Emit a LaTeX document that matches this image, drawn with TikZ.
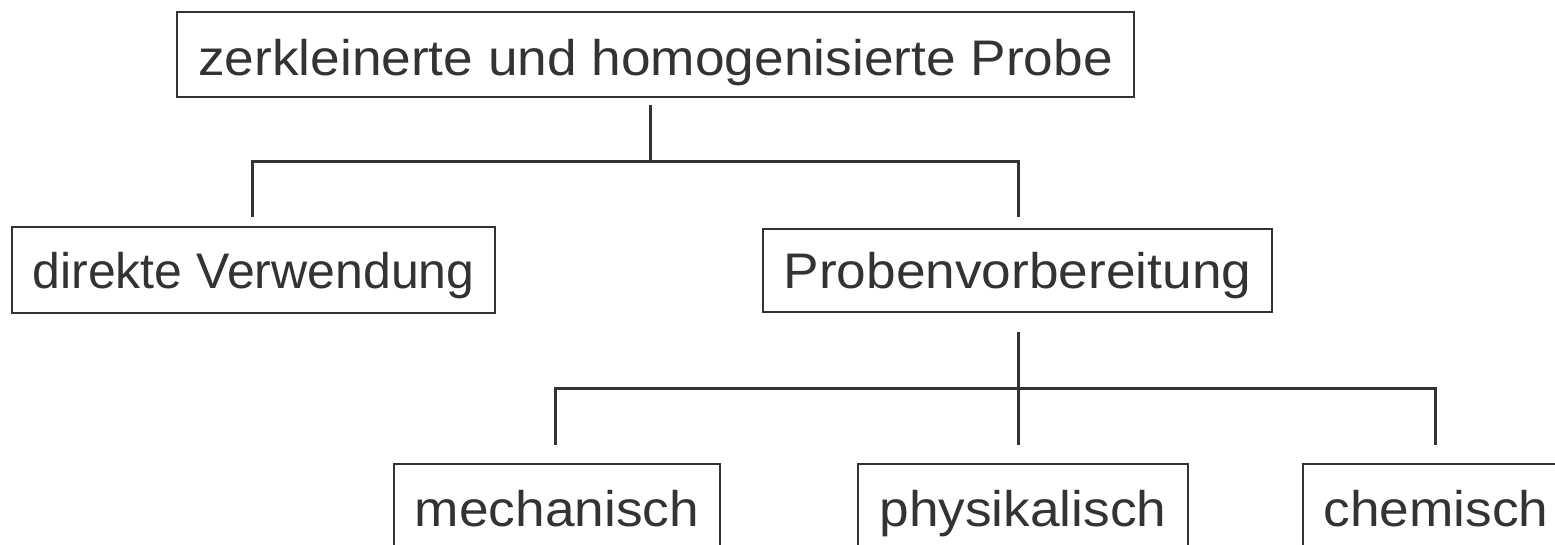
\documentclass[tikz,border=0pt]{standalone}
\usepackage{fontspec}
\setmainfont{Liberation Sans}
\newfontfamily\widefont{Liberation Sans}[FakeStretch=1.065]
\definecolor{ink}{HTML}{333333}
\begin{document}
\begin{tikzpicture}[x=1pt,y=-1pt,
  box/.style={draw=ink, line width=2pt, text=ink, font=\widefont\fontsize{50}{60}\selectfont,
    inner xsep=0pt, inner ysep=0pt, anchor=base, align=center},
  conn/.style={draw=ink, line width=3pt}]
\useasboundingbox (0,0) rectangle (1555,544);
\fill[white] (0,0) rectangle (1555,544);
\clip (0,0) rectangle (1555,544);
\node[box, minimum width=957pt, text height=63pt, text depth=22pt] (top) at (655.5,75) {zerkleinerte und homogenisierte Probe};
\node[box, font=\rmfamily\fontsize{50}{60}\selectfont, minimum width=483pt, text height=61pt, text depth=25pt] (dir) at (253.5,288) {direkte Verwendung};
\node[box, minimum width=509pt, text height=59pt, text depth=24pt] (pro) at (1017.5,288) {Probenvorbereitung};
\node[box, minimum width=326pt, text height=62pt, text depth=40pt] (mech) at (557,526) {mechanisch};
\node[box, minimum width=330pt, text height=62pt, text depth=40pt] (phys) at (1023,526) {physikalisch};
\node[box, minimum width=266pt, text height=62pt, text depth=40pt] (chem) at (1436,526) {chemisch};
\coordinate (topout) at (650,105);
\coordinate (bus1) at (650,161);
\coordinate (dirin) at (252,217);
\coordinate (proin) at (1018,217);
\draw[conn] (topout) -- (bus1);
\draw[conn] (dirin) |- (proin |- bus1) -- (proin);
\coordinate (proout) at (1018,332);
\coordinate (bus2) at (1018,388);
\coordinate (mechin) at (555,445);
\coordinate (physin) at (1018,445);
\coordinate (chemin) at (1435,445);
\draw[conn] (proout) -- (physin);
\draw[conn] (mechin) |- (chemin |- bus2) -- (chemin);
\end{tikzpicture}
\end{document}
